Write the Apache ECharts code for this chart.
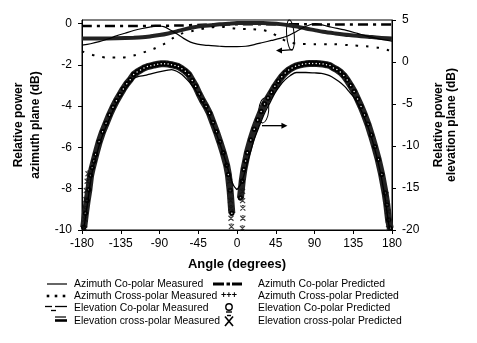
<!DOCTYPE html>
<html><head><meta charset="utf-8">
<script src="https://cdn.jsdelivr.net/npm/echarts@6/dist/echarts.min.js"></script>
<style>html,body{margin:0;padding:0;background:#fff}#c{width:477px;height:343px}</style>
</head><body><div id="c"></div>
<script>
// ---------- tick labels ----------
const xTicks = [-180, -135, -90, -45, 0, 45, 90, 135, 180];
const leftTicks = [-10, -8, -6, -4, -2, 0];
const rightTicks = [-20, -15, -10, -5, 0, 5];

// ---------- azimuth plane (left axis) ----------
const azCoMeasAngles = [-180,-170,-160,-150,-140,-130,-120,-110,-100,-92,-85,-78,-70,-62,-54,-46,-38,-30,-20,-10,0,10,20,30,40,50,58,66,75,84,91,100,110,125,140,152,165,180];
const azCoMeasValues = [-1.05,-0.98,-0.88,-0.75,-0.6,-0.47,-0.34,-0.24,-0.16,-0.12,-0.15,-0.3,-0.5,-0.72,-0.9,-1.0,-1.05,-1.07,-1.1,-1.12,-1.12,-1.1,-1.02,-0.92,-0.82,-0.72,-0.62,-0.45,-0.24,-0.07,0.0,-0.08,-0.18,-0.31,-0.48,-0.62,-0.74,-0.85];

const azCrossMeasAngles = [-180,-165,-150,-135,-120,-105,-95,-85,-75,-65,-50,-35,-20,-10,0,15,30,40,50,60,70,90,110,130,150,165,175,180];
const azCrossMeasValues = [-1.35,-1.55,-1.65,-1.65,-1.55,-1.35,-1.2,-1.0,-0.72,-0.5,-0.35,-0.22,-0.15,-0.2,-0.25,-0.27,-0.32,-0.45,-0.7,-0.9,-0.98,-1.0,-1.0,-1.05,-1.1,-1.18,-1.28,-1.35];

const azCoPredAngles = [-180,-120,-70,-40,0,40,80,120,180];
const azCoPredValues = [-0.12,-0.12,-0.1,-0.06,-0.03,-0.03,-0.04,-0.05,-0.05];

const azCrossPredAngles = [-180,-160,-140,-120,-110,-100,-90,-80,-70,-60,-50,-40,-30,-20,-10,0,10,20,30,40,50,60,70,80,90,100,114,130,152,165,180];
const azCrossPredValues = [-0.72,-0.72,-0.71,-0.69,-0.67,-0.62,-0.56,-0.48,-0.38,-0.27,-0.18,-0.12,-0.08,-0.04,-0.01,0.02,0.03,0.03,0.02,0.0,-0.03,-0.08,-0.15,-0.24,-0.32,-0.4,-0.48,-0.56,-0.64,-0.69,-0.72];

// ---------- elevation plane (right axis) ----------
const elLeftLobeAngles = [-178,-176,-174,-172,-170,-168,-166,-164,-160,-156,-152,-148,-144,-140,-136,-132,-128,-124,-120,-116,-112,-108,-104,-100,-96,-92,-88,-84,-80,-76,-72,-68,-64,-60,-56,-52,-48,-44,-40,-36,-32,-28,-24,-20,-16,-12,-10,-8,-6];
const elLeftLobeValues = [-19.7,-18,-16.5,-15.2,-13.5,-12.6,-11.8,-11.0,-9.5,-8.3,-7.3,-6.3,-5.4,-4.6,-3.9,-3.2,-2.6,-2.1,-1.5,-1.2,-0.95,-0.72,-0.55,-0.45,-0.35,-0.27,-0.22,-0.22,-0.25,-0.32,-0.42,-0.55,-0.8,-1.1,-1.5,-2.2,-2.9,-3.8,-4.6,-5.3,-6.1,-7.2,-8.3,-9.5,-10.8,-12.3,-13.4,-15.3,-18];
const elRightLobeAngles = [4,6,8,10,12,16,20,24,28,32,36,40,44,48,52,56,60,64,68,72,76,80,84,88,92,96,100,104,108,112,116,120,124,128,132,136,140,144,148,152,156,160,164,168,172,174,176,178];
const elRightLobeValues = [-16.2,-14.2,-12.8,-11.8,-10.8,-9.3,-8.0,-6.9,-5.9,-5.0,-4.3,-3.6,-2.9,-2.3,-1.75,-1.3,-0.95,-0.7,-0.5,-0.38,-0.28,-0.22,-0.18,-0.17,-0.18,-0.2,-0.25,-0.32,-0.42,-0.7,-0.9,-1.2,-1.6,-2.15,-2.8,-3.5,-4.4,-5.3,-6.3,-7.4,-8.7,-10.1,-11.6,-13.4,-15.6,-17,-18.8,-19.8];

const elCrossPredAngles = [-177,-176.5,-176,-175.5,-175,-174,-173,-8.5,-8,-7.5,-7,-7,-6.5,6.5,6.5,6.8,6.8,6.3,173,174,175,175.5,176];
const elCrossPredValues = [-19.8,-18.7,-17.5,-16.4,-15.3,-14.2,-13.3,-14.2,-15.4,-16.5,-17.4,-18.6,-19.6,-15.4,-16.5,-17.4,-18.6,-19.8,-15.8,-16.8,-17.8,-18.8,-19.8];

const elCoMeasAngles = [-178,-176,-172,-168,-164,-160,-156,-150,-144,-138,-132,-126,-120,-114,-107,-100,-92,-82,-76,-70,-64,-58,-52,-46,-40,-34,-28,-22,-16,-12,-8,-4,0];
const elCoMeasValues = [-19.8,-18.6,-15.6,-13.0,-11.4,-9.9,-8.7,-7.2,-5.8,-4.6,-3.6,-2.7,-1.95,-1.7,-1.6,-1.4,-1.2,-1.0,-0.9,-1.1,-1.5,-2.1,-2.8,-3.7,-4.8,-6.0,-7.5,-9.1,-10.9,-12.2,-13.6,-14.7,-15.2];
const elCrossMeasAngles = [0,4,8,12,16,20,26,32,38,44,50,56,62,69,80,90,98,104,110,118,125,130,135,140,146,152,158,164,168,172,176,178];
const elCrossMeasValues = [-15.2,-14.6,-13.5,-12.0,-10.6,-9.2,-7.6,-6.1,-4.9,-3.7,-2.8,-2.1,-1.6,-1.25,-1.25,-1.3,-1.35,-1.5,-1.75,-2.3,-2.9,-3.5,-4.1,-4.9,-6.2,-7.7,-9.6,-12.0,-13.9,-16.2,-19.2,-20];

const legendLabels = [
  'Azimuth Co-polar Measured', 'Azimuth Cross-polar Measured', 'Elevation Co-polar Measured', 'Elevation cross-polar Measured',
  'Azimuth Co-polar Predicted', 'Azimuth Cross-polar Predicted', 'Elevation Co-polar Predicted', 'Elevation cross-polar Predicted'
];

// ---------- build ----------
const FONT = '"Liberation Sans", Arial, Helvetica, sans-serif';
const zip = (a, v) => a.map((x, i) => [x, v[i]]);
const lobeData = zip(elLeftLobeAngles, elLeftLobeValues).concat([[0, null]], zip(elRightLobeAngles, elRightLobeValues));

const chart = echarts.init(document.getElementById('c'), null, { renderer: 'canvas' });
const axisLine = { show: true, onZero: false, lineStyle: { color: '#000', width: 1 } };
const tick = { show: true, length: 4, lineStyle: { color: '#000' } };
const lbl = { color: '#000', fontSize: 12, fontFamily: FONT };
const nameStyle = { color: '#000', fontSize: 12, fontWeight: 'bold', fontFamily: FONT };

chart.setOption({
  animation: false,
  backgroundColor: '#fff',
  grid: { left: 82, right: 85, top: 20, bottom: 113, show: true, borderColor: '#000', borderWidth: 1, outerBoundsMode: 'none' },
  xAxis: {
    type: 'value', min: -180, max: 180, interval: 45,
    axisLine, axisTick: tick, splitLine: { show: false },
    axisLabel: Object.assign({ margin: 8 }, lbl),
    name: 'Angle (degrees)', nameLocation: 'middle', nameGap: 28,
    nameTextStyle: Object.assign({}, nameStyle, { fontSize: 13 })
  },
  yAxis: [{
    type: 'value', min: -10, max: 0.17, interval: 2, position: 'left',
    axisLine, splitLine: { show: false },
    axisTick: Object.assign({ customValues: leftTicks }, tick),
    axisLabel: Object.assign({ margin: 10, customValues: leftTicks, formatter: v => (Math.abs(v % 2) < 1e-9 ? String(v) : '') }, lbl),
    name: 'Relative power\nazimuth plane (dB)', nameLocation: 'middle', nameRotate: 90, nameGap: 25,
    nameTextStyle: Object.assign({ lineHeight: 17 }, nameStyle)
  }, {
    type: 'value', min: -20, max: 5, interval: 5, position: 'right',
    axisLine, splitLine: { show: false }, axisTick: tick,
    axisLabel: Object.assign({ margin: 10 }, lbl),
    name: 'Relative power\nelevation plane (dB)', nameLocation: 'middle', nameRotate: 90, nameGap: 40,
    nameTextStyle: Object.assign({ lineHeight: 13 }, nameStyle)
  }],
  series: [
    { name: legendLabels[6], type: 'line', yAxisIndex: 1, data: lobeData, connectNulls: false,
      lineStyle: { color: '#222', width: 7 }, symbol: 'emptyCircle', symbolSize: 3.5, showAllSymbol: true,
      itemStyle: { color: '#000', borderWidth: 1 }, z: 2 },
    { name: legendLabels[7], type: 'scatter', yAxisIndex: 1, data: zip(elCrossPredAngles, elCrossPredValues),
      symbol: 'path://M0,0L10,10M10,0L0,10M3,0L7,0', symbolSize: 5,
      itemStyle: { color: 'rgba(0,0,0,0)', borderColor: '#111', borderWidth: 1.2 }, z: 3 },
    { name: legendLabels[2], type: 'line', yAxisIndex: 1, data: zip(elCoMeasAngles, elCoMeasValues),
      symbol: 'none', smooth: 0.3, lineStyle: { color: '#000', width: 1.3 }, z: 4 },
    { name: legendLabels[3], type: 'line', yAxisIndex: 1, data: zip(elCrossMeasAngles, elCrossMeasValues),
      symbol: 'none', smooth: 0.3, lineStyle: { color: '#000', width: 1.3 }, z: 4 },
    { name: legendLabels[4], type: 'line', yAxisIndex: 0, data: zip(azCoPredAngles, azCoPredValues),
      symbol: 'none', smooth: 0.3, lineStyle: { color: '#000', width: 2.5, type: [10, 5, 3, 5] }, z: 5 },
    { name: legendLabels[5], type: 'line', yAxisIndex: 0, data: zip(azCrossPredAngles, azCrossPredValues),
      symbol: 'none', smooth: 0.3, lineStyle: { color: '#222', width: 4 }, z: 6 },
    { name: legendLabels[0], type: 'line', yAxisIndex: 0, data: zip(azCoMeasAngles, azCoMeasValues),
      symbol: 'none', smooth: 0.3, lineStyle: { color: '#000', width: 1.2 }, z: 7 },
    { name: legendLabels[1], type: 'line', yAxisIndex: 0, data: zip(azCrossMeasAngles, azCrossMeasValues),
      symbol: 'none', smooth: 0.3, lineStyle: { color: '#000', width: 2, type: [2.5, 8] }, z: 7 }
  ]
});

// ---------- annotations (positioned in data space) and legend ----------
const P = (yi, pt) => chart.convertToPixel({ xAxisIndex: 0, yAxisIndex: yi }, pt);
const ln = (x1, y1, x2, y2, w) => ({ type: 'line', silent: true, shape: { x1, y1, x2, y2 }, style: { stroke: '#000', lineWidth: w || 1 } });
const tx = (x, y, s, extra) => ({ type: 'text', silent: true, x, y, style: Object.assign({ text: s, fill: '#000', fontSize: 10.4, fontFamily: FONT, verticalAlign: 'middle', align: 'left' }, extra || {}) });
const arrowHead = (x, y, dir) => ({ type: 'polygon', silent: true, shape: { points: [[x, y], [x - dir * 6, y - 3], [x - dir * 6, y + 3]] }, style: { fill: '#000' } });

const g = [];
// top ellipse + arrow to the left axis
const e1 = P(0, [62.1, -0.56]);
g.push({ type: 'ellipse', silent: true, rotation: 0.08, x: e1[0], y: e1[1], shape: { cx: 0, cy: 0, rx: 3.8, ry: 15 }, style: { fill: 'none', stroke: '#000', lineWidth: 1 } });
const a1s = P(0, [65, -1.26]), a1e = P(0, [45.3, -1.31]);
g.push(ln(a1s[0], a1s[1], a1e[0] + 4, a1e[1], 1.3), arrowHead(a1e[0], a1e[1], -1));
// lower ellipse + arrow to the right axis
const e2 = P(1, [31.0, -5.77]);
g.push({ type: 'ellipse', silent: true, rotation: -0.1, x: e2[0], y: e2[1], shape: { cx: 0, cy: 0, rx: 5, ry: 12.5 }, style: { fill: 'none', stroke: '#000', lineWidth: 1 } });
const a2s = P(1, [29.0, -7.58]), a2e = P(1, [58.6, -7.58]);
g.push(ln(a2s[0], a2s[1], a2e[0] - 4, a2e[1], 1.3), arrowHead(a2e[0], a2e[1], 1));

// legend
const rows = [284, 296, 308.5, 321];
const c1 = 74, c2 = 258;
for (let i = 0; i < 4; i++) { g.push(tx(c1, rows[i], legendLabels[i])); g.push(tx(c2, rows[i], legendLabels[i + 4])); }
// col 1 glyphs
g.push(ln(47, rows[0], 67, rows[0], 1.2));
[48, 56, 64].forEach(x => g.push({ type: 'rect', silent: true, shape: { x: x - 1.3, y: rows[1] - 1.3, width: 2.6, height: 2.6 }, style: { fill: '#000' } }));
g.push(ln(45, rows[2] - 2, 52, rows[2] - 2, 1.3), ln(55, rows[2] - 2, 67, rows[2] - 2, 1.3), ln(51, rows[2] + 2, 56, rows[2] + 2, 1.3));
g.push(ln(55, rows[3] - 4, 66, rows[3] - 4, 1.2), ln(55, rows[3] - 0.5, 67, rows[3] - 0.5, 2.6));
// col 2 glyphs
g.push(ln(213, rows[0], 224, rows[0], 3), ln(226.5, rows[0], 230, rows[0], 3), ln(232, rows[0], 242, rows[0], 3));
g.push(tx(229, rows[1], '+++', { align: 'center', fontSize: 9, fontWeight: 'bold' }));
g.push({ type: 'circle', silent: true, shape: { cx: 229, cy: rows[2] - 1.5, r: 3.2 }, style: { fill: 'none', stroke: '#000', lineWidth: 1.4 } });
g.push(ln(226, rows[2] + 3.5, 232, rows[2] + 3.5, 1.4));
g.push(ln(225, rows[3] - 4.5, 233, rows[3] + 5, 1.6), ln(233, rows[3] - 4.5, 225, rows[3] + 5, 1.6), ln(227, rows[3] - 5.5, 231, rows[3] - 5.5, 1.4));

chart.setOption({ graphic: g });
</script>
</body></html>
